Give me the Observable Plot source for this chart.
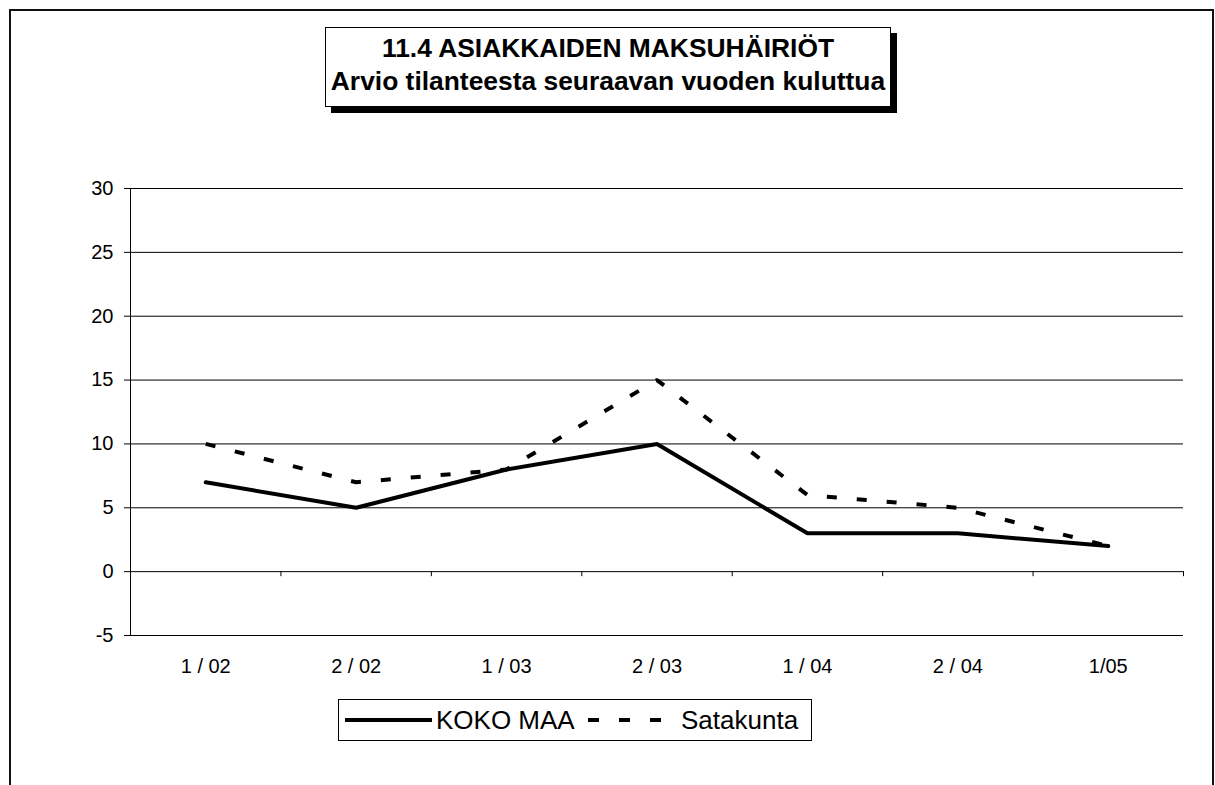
<!DOCTYPE html>
<html><head><meta charset="utf-8">
<script src="https://cdn.jsdelivr.net/npm/d3@7"></script>
<script src="https://cdn.jsdelivr.net/npm/@observablehq/plot@0.6"></script>
<style>
body{margin:0;background:#fff;font-family:"Liberation Sans",Arial,sans-serif;}
#wrap{position:relative;width:1215px;height:785px;overflow:hidden;background:#fff;}
#frame{position:absolute;left:9px;top:9px;width:1205px;height:800px;border:2px solid #111;border-bottom:none;box-sizing:border-box;}
#chart{position:absolute;left:0;top:0;}
#title{position:absolute;left:325px;top:27px;width:566px;height:80px;border:1px solid #000;box-sizing:border-box;background:#fff;box-shadow:6px 6px 0 #000;text-align:center;font-weight:bold;font-size:26.4px;line-height:33px;padding-top:4px;color:#000;white-space:nowrap;}
#legend{position:absolute;left:338px;top:699px;width:474px;height:42px;border:1px solid #000;box-sizing:border-box;background:#fff;font-size:26px;color:#000;white-space:nowrap;}
#legend > *{position:absolute;}
</style>
</head><body>
<div id="wrap">
  <div id="frame"></div>
  <div id="chart"></div>
  <div id="title">11.4 ASIAKKAIDEN MAKSUHÄIRIÖT<br>Arvio tilanteesta seuraavan vuoden kuluttua</div>
  <div id="legend"></div>
</div>
<script>
const categories = ["1 / 02", "2 / 02", "1 / 03", "2 / 03", "1 / 04", "2 / 04", "1/05"];
const seriesNames = ["KOKO MAA", "Satakunta"];
const kokoMaa = [7, 5, 8, 10, 3, 3, 2];
const satakunta = [10, 7, 8, 15, 6, 5, 2];
const yTicks = [-5, 0, 5, 10, 15, 20, 25, 30];

const idx = categories.map((_, i) => i);
const boundaries = categories.map((_, i) => i + 0.5);
const rowsKoko = categories.map((c, i) => ({i, cat: c, value: kokoMaa[i]}));
const rowsSata = categories.map((c, i) => ({i, cat: c, value: satakunta[i]}));

const DASH = "10,20";

const chart = Plot.plot({
  width: 1215,
  height: 785,
  marginLeft: 130,
  marginRight: 32,
  marginTop: 188,
  marginBottom: 150,
  style: {fontFamily: '"Liberation Sans", Arial, sans-serif', fontSize: "20px", color: "#000", background: "transparent", overflow: "visible"},
  x: {type: "linear", domain: [-0.5, categories.length - 0.5]},
  y: {domain: [-5, 30]},
  marks: [
    Plot.ruleY(yTicks, {stroke: "#000", strokeWidth: 1}),
    Plot.ruleX([-0.5], {y1: -5, y2: 30, stroke: "#000", strokeWidth: 1}),
    Plot.ruleX(boundaries, {y1: 0, y2: 0, insetBottom: -5, stroke: "#000", strokeWidth: 1}),
    Plot.axisY({ticks: yTicks, tickSize: 6, tickPadding: 11, tickFormat: d => String(d), label: null, fontSize: 20, stroke: "#000"}),
    Plot.axisX({ticks: idx, tickFormat: i => categories[i], tickSize: 0, tickPadding: 23, label: null, fontSize: 20}),
    Plot.line(rowsSata, {x: "i", y: "value", stroke: "#000", strokeWidth: 4, strokeDasharray: DASH, strokeLinejoin: "miter", strokeLinecap: "butt"}),
    Plot.line(rowsKoko, {x: "i", y: "value", stroke: "#000", strokeWidth: 4, strokeLinejoin: "miter"})
  ]
});
document.getElementById("chart").appendChild(chart);

// legend (positions relative to legend box at left 338, top 699)
const legend = document.getElementById("legend");
const ns = "http://www.w3.org/2000/svg";
function sample(dashed, left, width) {
  const s = document.createElementNS(ns, "svg");
  s.setAttribute("width", width);
  s.setAttribute("height", 10);
  s.style.left = left + "px";
  s.style.top = "15px";
  const l = document.createElementNS(ns, "line");
  l.setAttribute("x1", 0);
  l.setAttribute("x2", width);
  l.setAttribute("y1", 5); l.setAttribute("y2", 5);
  l.setAttribute("stroke", "#000"); l.setAttribute("stroke-width", 4);
  if (dashed) l.setAttribute("stroke-dasharray", "11,20");
  s.appendChild(l);
  return s;
}
function label(text, left) {
  const t = document.createElement("span");
  t.textContent = text;
  t.style.left = left + "px";
  t.style.top = "5px";
  t.style.lineHeight = "30px";
  return t;
}
legend.appendChild(sample(false, 6, 87));
legend.appendChild(label(seriesNames[0], 97));
legend.appendChild(sample(true, 249, 73));
legend.appendChild(label(seriesNames[1], 342));
</script>
</body></html>
